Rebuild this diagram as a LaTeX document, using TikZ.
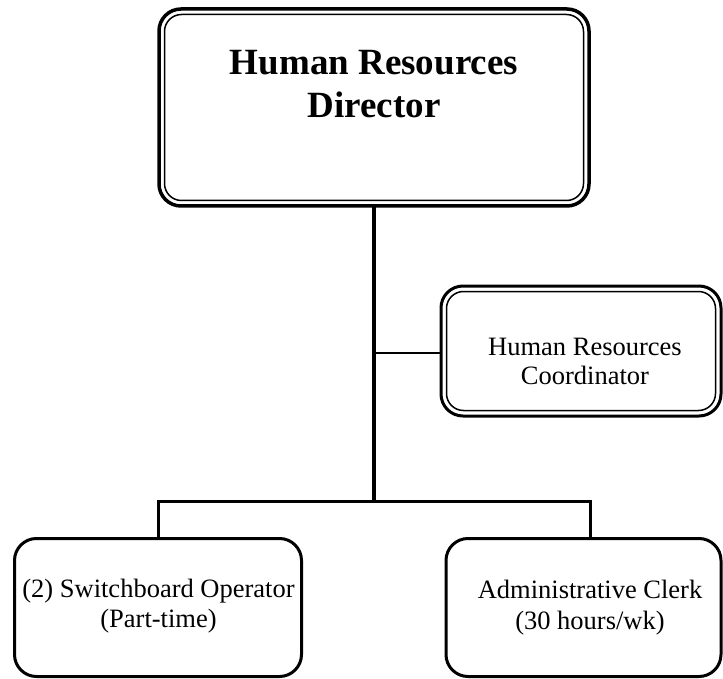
\documentclass[tikz,border=0pt]{standalone}
\usepackage{fontspec}
\setmainfont{Liberation Serif}
\begin{document}
\begin{tikzpicture}[x=1pt,y=-1pt,
  outerbox/.style={draw, line width=3.5pt, rounded corners=22pt, outer sep=0pt, inner sep=0pt},
  innerline/.style={line width=1.5pt, rounded corners=17pt},
  plainbox/.style={draw, line width=3pt, rounded corners=22pt, outer sep=0pt, inner sep=0pt},
  bigtxt/.style={font=\fontsize{37}{43}\selectfont\bfseries, anchor=base, inner sep=0pt},
  smalltxt/.style={font=\fontsize{26.5}{30}\selectfont, anchor=base, inner sep=0pt},
  trunk/.style={line width=4pt},
  branch/.style={line width=3pt},
  link/.style={line width=1.5pt}]
\useasboundingbox (0,0) rectangle (723,679);

% Director (double border)
\node[outerbox, minimum width=430pt, minimum height=197pt] (dir) at (374,107.5) {};
\draw[innerline] ([shift={(5.5,5.5)}]dir.north west) rectangle ([shift={(-5.5,-5.5)}]dir.south east);
\node[bigtxt] (dirA) at (374,75) {Human Resources};
\node[bigtxt] (dirB) at (374,118) {Director};

% Coordinator (double border)
\node[outerbox, line width=3pt, minimum width=280pt, minimum height=130pt] (coord) at (581,351) {};
\draw[innerline] ([shift={(5.5,5.5)}]coord.north west) rectangle ([shift={(-5.5,-5.5)}]coord.south east);
\node[smalltxt] (coordA) at (585,355) {Human Resources};
\node[smalltxt] (coordB) at (585,384) {Coordinator};

% Bottom row
\node[plainbox, minimum width=287pt, minimum height=138pt] (ops) at (158,607.5) {};
\node[smalltxt] (opsA) at (158.5,597) {(2) Switchboard Operator};
\node[smalltxt] (opsB) at (158.5,627) {(Part-time)};

\node[plainbox, minimum width=275pt, minimum height=138pt] (clerk) at (583.5,607.5) {};
\node[smalltxt] (clerkA) at (590,598) {Administrative Clerk};
\node[smalltxt] (clerkB) at (590,629) {(30 hours/wk)};

% Connectors
\coordinate (jn) at (374,501);
\coordinate (tap) at (374,353);
\draw[trunk] (dir.south) -- (jn);
\draw[link] (tap) -- (coord.west |- tap);
\draw[branch] (ops.north) |- (jn) -| ([xshift=6.5pt]clerk.north);
\end{tikzpicture}
\end{document}
